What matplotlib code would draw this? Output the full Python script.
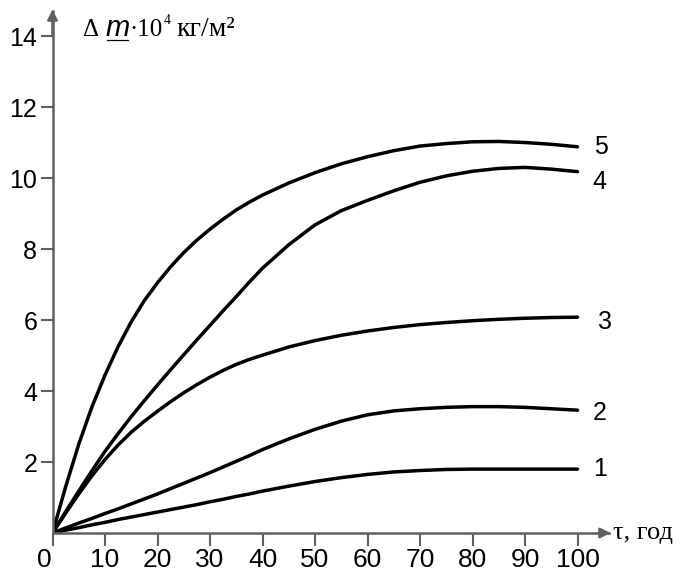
import matplotlib.pyplot as plt
import matplotlib.transforms as mtransforms
import numpy as np

# time, years
tau = [0, 2.5, 5, 7.5, 10, 12.5, 15, 17.5, 20, 22.5, 25, 27.5, 30,
       32.5, 35, 37.5, 40, 45, 50, 55, 60, 65, 70, 75, 80, 85, 90, 95, 100]

# mass change * 10^4, kg/m2, curves 1..5
curve1 = [0, 0.08, 0.15, 0.23, 0.3, 0.38, 0.45, 0.52, 0.59, 0.66, 0.73,
          0.8, 0.88, 0.95, 1.03, 1.1, 1.18, 1.32, 1.45, 1.56, 1.65, 1.72,
          1.76, 1.79, 1.8, 1.8, 1.8, 1.8, 1.8]
curve2 = [0, 0.14, 0.28, 0.41, 0.55, 0.68, 0.82, 0.96, 1.1, 1.25, 1.4,
          1.55, 1.7, 1.86, 2.02, 2.18, 2.35, 2.65, 2.92, 3.15, 3.33, 3.44,
          3.5, 3.54, 3.56, 3.56, 3.54, 3.5, 3.46]
curve3 = [0, 0.56, 1.1, 1.61, 2.07, 2.48, 2.84, 3.15, 3.43, 3.7, 3.95,
          4.18, 4.39, 4.58, 4.75, 4.89, 5.01, 5.24, 5.42, 5.57, 5.69, 5.79,
          5.87, 5.93, 5.98, 6.02, 6.05, 6.07, 6.08]
curve4 = [0, 0.6, 1.18, 1.75, 2.3, 2.8, 3.28, 3.73, 4.17, 4.6, 5.02,
          5.44, 5.85, 6.26, 6.66, 7.07, 7.46, 8.12, 8.68, 9.08, 9.37, 9.64,
          9.88, 10.06, 10.19, 10.27, 10.3, 10.25, 10.18]
curve5 = [0, 1.3, 2.5, 3.55, 4.45, 5.25, 5.95, 6.55, 7.05, 7.5, 7.9,
          8.25, 8.56, 8.84, 9.1, 9.32, 9.52, 9.86, 10.15, 10.4, 10.6, 10.77,
          10.9, 10.97, 11.02, 11.03, 11.0, 10.95, 10.88]

curves = [curve1, curve2, curve3, curve4, curve5]
curve_names = ['1', '2', '3', '4', '5']
label_x = [104.3, 104.3, 105.2, 104.1, 104.5]
label_y = [1.8, 3.38, 5.94, 9.89, 10.87]

x_ticks = np.arange(0, 101, 10)
y_ticks = [2, 4, 6, 8, 10, 12, 14]

fig = plt.figure(figsize=(6.89, 5.73), dpi=100)
ax = fig.add_axes([0.0762, 0.0698, 0.8077, 0.9107])

axis_color = '#606060'
sans = 'Liberation Sans'
serif = 'Liberation Serif'

for values in curves:
    ax.plot(tau, values, color='black', linewidth=2.5, solid_capstyle='round',
            solid_joinstyle='round')

for name, x, y in zip(curve_names, label_x, label_y):
    ax.text(x, y, name, fontsize=18, family=sans, ha='center', va='center')

ax.set_xlim(0, 106)
ax.set_ylim(0, 14.7)

ax.spines['top'].set_visible(False)
ax.spines['right'].set_visible(False)
for side in ['left', 'bottom']:
    ax.spines[side].set_color(axis_color)
    ax.spines[side].set_linewidth(1.8)

ax.set_xticks(x_ticks)
ax.set_yticks(y_ticks)
ax.tick_params(axis='both', colors=axis_color, width=1.5, length=9,
               labelcolor='black', pad=2)
ax.tick_params(axis='x', labelsize=19)
ax.tick_params(axis='y', labelsize=18)
for lab in ax.get_xticklabels() + ax.get_yticklabels():
    lab.set_family(sans)

# the 0 label sits a bit left of the axis
zero_lab = ax.get_xticklabels()[0]
zero_lab.set_transform(zero_lab.get_transform() +
                       mtransforms.ScaledTranslation(-8 / 100, 0, fig.dpi_scale_trans))

# axis arrows
ax.annotate('', xy=(0, 14.75), xytext=(0, 14.0),
            arrowprops=dict(arrowstyle='-|>', color=axis_color, lw=1.8,
                            mutation_scale=15, shrinkA=0, shrinkB=0),
            annotation_clip=False)
ax.annotate('', xy=(106.3, 0), xytext=(104, 0),
            arrowprops=dict(arrowstyle='-|>', color=axis_color, lw=1.8,
                            mutation_scale=15, shrinkA=0, shrinkB=0),
            annotation_clip=False)

# axis titles
fig.text(0.889, 0.0698, 'τ, год', fontsize=19, family=serif,
         ha='left', va='center')
fig.text(0.1205, 0.937, 'Δ', fontsize=18, family=serif,
         ha='left', va='baseline')
fig.text(0.153, 0.937, 'm', fontsize=21, family=sans,
         style='italic', ha='left', va='baseline')
fig.add_artist(plt.Line2D([0.155, 0.186], [0.930, 0.930],
                          color='black', linewidth=0.9))
fig.text(0.188, 0.937, '·10', fontsize=18, family=serif,
         ha='left', va='baseline')
fig.text(0.237, 0.958, '4', fontsize=10, family=serif,
         ha='left', va='baseline')
fig.text(0.256, 0.937, 'кг/м²', fontsize=20, family=serif,
         ha='left', va='baseline')

fig.savefig('out.png', dpi=100)
